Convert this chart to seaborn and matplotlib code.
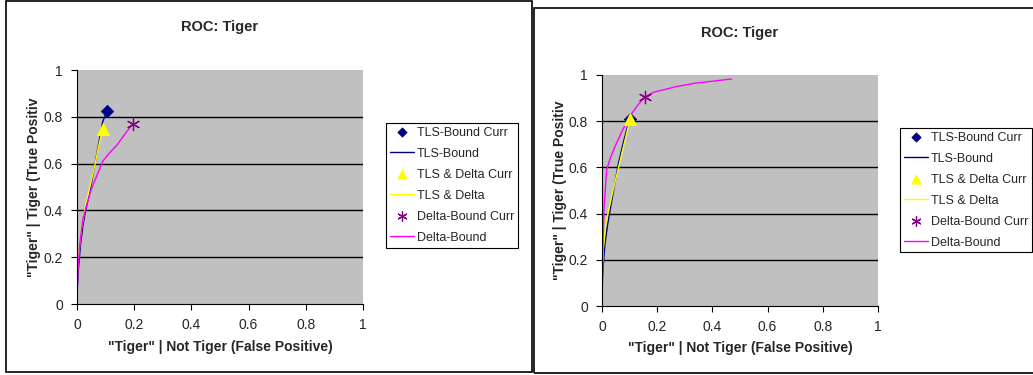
import matplotlib
matplotlib.use("Agg")
import matplotlib.pyplot as plt
from matplotlib.patches import Rectangle
from matplotlib.ticker import FuncFormatter
import seaborn as sns

# ---- data ----
# left chart
left_tls_bound_x = [0.0, 0.005, 0.012, 0.02, 0.03, 0.045, 0.06, 0.075, 0.09, 0.105]
left_tls_bound_y = [0.05, 0.15, 0.25, 0.33, 0.40, 0.48, 0.58, 0.68, 0.78, 0.825]
left_tls_delta_x = [0.0, 0.005, 0.015, 0.03, 0.045, 0.06, 0.075, 0.09]
left_tls_delta_y = [0.10, 0.20, 0.32, 0.42, 0.50, 0.58, 0.67, 0.75]
left_delta_x = [0.0, 0.003, 0.01, 0.02, 0.035, 0.05, 0.07, 0.09, 0.11, 0.14, 0.17, 0.195]
left_delta_y = [0.0, 0.15, 0.26, 0.36, 0.43, 0.49, 0.55, 0.61, 0.64, 0.68, 0.73, 0.77]
left_curr_tls_bound = (0.105, 0.825)
left_curr_tls_delta = (0.09, 0.75)
left_curr_delta = (0.195, 0.77)

# right chart
right_tls_bound_x = [0.0, 0.003, 0.01, 0.02, 0.03, 0.045, 0.06, 0.08, 0.1]
right_tls_bound_y = [0.05, 0.15, 0.26, 0.35, 0.42, 0.52, 0.62, 0.72, 0.81]
right_tls_delta_x = [0.0, 0.005, 0.012, 0.025, 0.04, 0.06, 0.08, 0.1]
right_tls_delta_y = [0.12, 0.25, 0.34, 0.42, 0.50, 0.60, 0.70, 0.80]
right_delta_x = [0.0, 0.002, 0.007, 0.017, 0.03, 0.047, 0.07, 0.1, 0.13, 0.156, 0.186,
                 0.22, 0.27, 0.34, 0.415, 0.47]
right_delta_y = [0.0, 0.20, 0.42, 0.59, 0.64, 0.69, 0.75, 0.82, 0.87, 0.906, 0.925,
                 0.935, 0.95, 0.965, 0.975, 0.983]
right_curr_tls_bound = (0.1, 0.81)
right_curr_tls_delta = (0.1, 0.81)
right_curr_delta = (0.156, 0.906)

x_ticks = [0, 0.2, 0.4, 0.6, 0.8, 1]
y_ticks = [0, 0.2, 0.4, 0.6, 0.8, 1]
legend_order = ["TLS-Bound Curr", "TLS-Bound", "TLS & Delta Curr", "TLS & Delta",
                "Delta-Bound Curr", "Delta-Bound"]

NAVY = "#000080"
YELLOW = "#ffff00"
PURPLE = "#800080"
MAGENTA = "#ff00ff"

sns.set_style("white")
plt.rcParams["font.family"] = ["Liberation Sans", "DejaVu Sans"]

W, H = 1033, 375
fig = plt.figure(figsize=(W / 100, H / 100), dpi=100)


def fbox(x0, y0, x1, y1):
    # pixel box (top-left origin) -> figure fraction rect
    return [x0 / W, 1 - y1 / H, (x1 - x0) / W, (y1 - y0) / H]


def draw_panel(plot_px, legend_xy, title_y, xlabel_y, ylabel_x, data):
    ax = fig.add_axes(fbox(*plot_px))
    ax.set_facecolor("#c0c0c0")
    (tb_x, tb_y, td_x, td_y, d_x, d_y, c_tb, c_td, c_d) = data

    sns.lineplot(x=tb_x, y=tb_y, sort=False, color=NAVY, lw=1, ax=ax, label="TLS-Bound")
    sns.lineplot(x=td_x, y=td_y, sort=False, color=YELLOW, lw=1, ax=ax, label="TLS & Delta")
    sns.lineplot(x=d_x, y=d_y, sort=False, color=MAGENTA, lw=1, ax=ax, label="Delta-Bound")
    sns.scatterplot(x=[c_tb[0]], y=[c_tb[1]], marker="D", s=40, color=NAVY,
                    edgecolor=NAVY, ax=ax, label="TLS-Bound Curr", zorder=5)
    sns.scatterplot(x=[c_td[0]], y=[c_td[1]], marker="^", s=75, color=YELLOW,
                    edgecolor=YELLOW, ax=ax, label="TLS & Delta Curr", zorder=6)
    sns.scatterplot(x=[c_d[0]], y=[c_d[1]], marker=(6, 2, 0), s=80, color=PURPLE,
                    edgecolor=PURPLE, linewidth=0.9, ax=ax, label="Delta-Bound Curr", zorder=5)

    ax.set_xlim(0, 1)
    ax.set_ylim(0, 1)
    ax.set_xticks(x_ticks)
    ax.set_yticks(y_ticks)
    fmt = FuncFormatter(lambda v, p: f"{v:g}")
    ax.xaxis.set_major_formatter(fmt)
    ax.yaxis.set_major_formatter(fmt)
    ax.tick_params(axis="both", direction="out", length=4, width=0.8, color="black",
                   labelsize=10, pad=6, bottom=True, left=True)
    ax.yaxis.grid(True, color="black", lw=1)
    ax.xaxis.grid(False)
    for gl, v in zip(ax.yaxis.get_gridlines(), y_ticks):
        if v in (0, 1):
            gl.set_visible(False)
    for side in ("top", "right"):
        ax.spines[side].set_visible(False)
    for side in ("left", "bottom"):
        ax.spines[side].set_color("black")
        ax.spines[side].set_linewidth(0.8)

    ax.set_xlabel("")
    ax.set_ylabel("")
    cx = (plot_px[0] + plot_px[2]) / 2
    fig.text(cx / W, 1 - title_y / H, "ROC: Tiger", ha="center", va="center",
             fontsize=10.5, fontweight="bold")
    fig.text(cx / W, 1 - xlabel_y / H, '"Tiger" | Not Tiger (False Positive)',
             ha="center", va="center", fontsize=10, fontweight="bold")
    cy = (plot_px[1] + plot_px[3]) / 2
    fig.text(ylabel_x / W, 1 - cy / H, '"Tiger" | Tiger (True Positiv', ha="center",
             va="center", rotation=90, fontsize=10, fontweight="bold")

    # legend in Excel order: marker then line for each series
    handles, labels = ax.get_legend_handles_labels()
    lookup = dict(zip(labels, handles))
    leg = ax.legend([lookup[l] for l in legend_order], legend_order,
                    loc="upper left",
                    bbox_to_anchor=(legend_xy[0] / W, 1 - legend_xy[1] / H),
                    bbox_transform=fig.transFigure, fontsize=9, frameon=True,
                    fancybox=False, edgecolor="black", framealpha=1, handlelength=1.9,
                    handletextpad=0.25, labelspacing=0.72, borderpad=0.3,
                    borderaxespad=0, markerscale=0.75)
    leg.get_frame().set_linewidth(0.8)
    return ax


draw_panel((77, 70, 363, 304), (386, 123), 27, 347, 34,
           (left_tls_bound_x, left_tls_bound_y, left_tls_delta_x, left_tls_delta_y,
            left_delta_x, left_delta_y, left_curr_tls_bound, left_curr_tls_delta,
            left_curr_delta))
draw_panel((602, 75, 878, 306), (900, 128), 33, 348, 560,
           (right_tls_bound_x, right_tls_bound_y, right_tls_delta_x, right_tls_delta_y,
            right_delta_x, right_delta_y, right_curr_tls_bound, right_curr_tls_delta,
            right_curr_delta))

# chart frames
for x0, y0, x1, y1 in [(6, 1, 532, 372), (534, 8, 1045, 373)]:
    fig.add_artist(Rectangle((x0 / W, 1 - y1 / H), (x1 - x0) / W, (y1 - y0) / H,
                             transform=fig.transFigure, fill=False, edgecolor="black",
                             lw=1.2))

fig.savefig("out.png", dpi=100)
